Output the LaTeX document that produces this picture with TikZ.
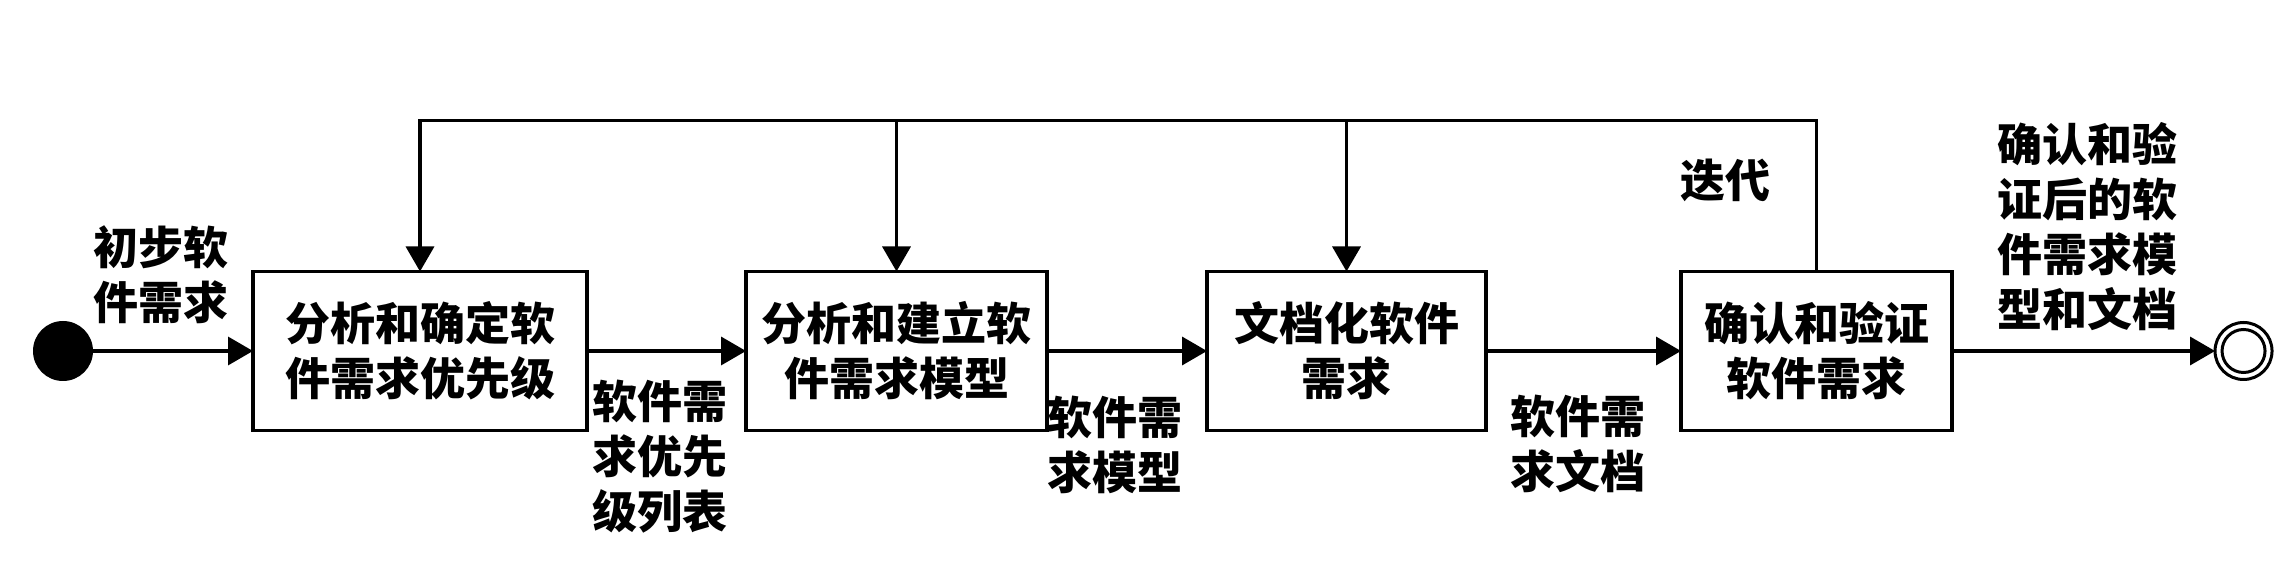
\documentclass[tikz,border=0pt]{standalone}
\usepackage{fontspec}
\newfontfamily\cjk{Noto Sans CJK SC}
\usetikzlibrary{arrows.meta, positioning}
\tikzset{
  stepbox/.style={draw, rectangle, line width=3.5bp, minimum height=159bp, inner sep=0pt, outer sep=0pt, align=center},
  flowlabel/.style={align=center, inner sep=0pt},
  finalring/.style={circle, draw, line width=3bp, inner sep=0pt, outer sep=0pt},
}

\begin{document}
\begin{tikzpicture}[x=1bp, y=1bp, >={Triangle[length=25bp,width=28bp]}, line width=3.5bp, node distance=160bp, every node/.style={font=\cjk\bfseries\fontsize{45bp}{55bp}\selectfont}]
\useasboundingbox (0,0) rectangle (2293,577);
\node[circle, fill=black, minimum size=60bp, inner sep=0pt, outer sep=0pt] (q0) at (63,226) {};
\node[stepbox, minimum width=334bp, right=of q0] (q1) {分析和确定软\\件需求优先级};
\node[stepbox, minimum width=301bp, right=159bp of q1] (q2) {分析和建立软\\件需求模型};
\node[stepbox, minimum width=279bp, right=of q2] (q3) {文档化软件\\需求};
\node[stepbox, minimum width=271bp, right=195bp of q3] (q4) {确认和验证\\软件需求};
\node[finalring, minimum size=57bp, right=263bp of q4] (qf) {};
\node[finalring, minimum size=43bp] (qfin) at (qf) {};
\coordinate[above=151bp of q4.north] (back);
\draw [->] (q0) -- (q1);
\draw [->] (q1) -- (q2);
\draw [->] (q2) -- (q3);
\draw [->] (q3) -- (q4);
\draw [->] (q4) -- (qf);
\draw [->] (q4.north) -- (back) -| (q1.north);
\draw [->] (q2.north |- back) -- (q2.north);
\draw [->] (q3.north |- back) -- (q3.north);
\node[flowlabel] (l0) at (161,302) {初步软\\件需求};
\node[flowlabel] (l1) at (660,120) {软件需\\求优先\\级列表};
\node[flowlabel] (l2) at (1115,132) {软件需\\求模型};
\node[flowlabel] (l3) at (1578,133) {软件需\\求文档};
\node[flowlabel] (l4) at (1725,397) {迭代};
\node[flowlabel] (l5) at (2087,350) {确认和验\\证后的软\\件需求模\\型和文档};
\end{tikzpicture}
\end{document}
